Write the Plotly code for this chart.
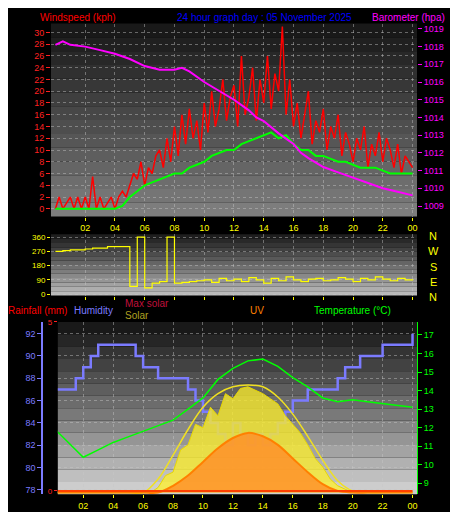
import plotly.graph_objects as go

# time grids (hours)
hours = list(range(25))
half_hours = [i * 0.5 for i in range(49)]
quarter_hours = [i * 0.25 for i in range(97)]

gust = [0, 2, 0, 1, 2, 0, 2, 0, 2, 0, 5.5, 0, 2, 0, 1, 2, 0, 2,
        3, 2, 4, 6, 5, 8, 4, 7, 6, 9, 10, 7, 12, 8,
        14, 9, 16, 11, 17, 12, 15, 10, 18, 13, 20, 14, 17, 22, 15, 19,
        21, 14, 26, 16, 19, 24, 15, 22, 18, 26, 17, 23, 20, 31, 16, 22,
        14, 18, 12, 16, 20, 11, 15, 13, 17, 10, 14, 12, 16, 9, 13, 11,
        8, 12, 10, 14, 7, 11, 9, 13, 8, 12, 10, 7, 11, 6, 9, 8, 7]
avg_wind = [0, 0, 0, 0, 0, 0, 0, 0, 0, 0.5,
            2, 3, 4, 4.5, 5, 5.5, 6, 6, 7, 7.5,
            8, 9, 9.5, 10, 10, 11, 11.5, 12, 12.5, 13,
            12, 12.5, 11, 10, 10, 9, 9, 8.5, 8, 8,
            7.5, 7, 7, 7, 6.5, 6, 6, 6, 6]
baro_t = [0, 0.5, 1, 2, 3, 4, 5, 6, 7, 8, 8.5, 9, 10, 11, 12, 13, 13.5, 14, 15, 16, 16.5, 17, 18, 19, 20, 21, 22, 23, 24]
baro = [1018.1, 1018.3, 1018.1, 1018.0, 1017.8, 1017.6, 1017.3, 1016.9, 1016.7, 1016.7, 1016.8, 1016.6,
        1016.0, 1015.5, 1015.0, 1014.4, 1014.0, 1013.8, 1013.1, 1012.5, 1012.0, 1011.7, 1011.2,
        1010.9, 1010.6, 1010.3, 1010.0, 1009.8, 1009.6]
direction = [270, 275, 280, 280, 285, 290, 290, 300, 300, 300,
             50, 360, 40, 70, 80, 360, 70, 75, 80, 85,
             90, 75, 100, 85, 95, 80, 105, 90, 70, 100, 85, 110, 90, 80, 95,
             100, 85, 90, 105, 95, 80, 100, 90, 110, 95, 85, 100, 90, 95]
humidity = [87, 87, 87, 88, 89, 90, 91, 91, 91, 91,
            91, 90, 89, 89, 88, 88, 88, 88, 87, 86,
            85, 84, 83, 82, 84, 83, 82, 83, 82, 83,
            84, 85, 86, 86, 87, 87, 87, 87, 88, 89,
            89, 90, 90, 90, 91, 91, 91, 91, 92]
temperature = [12.0, 11.2, 10.4, 10.8, 11.2, 11.5, 11.8, 12.1, 12.4, 13.0, 13.6, 14.6, 15.2,
               15.6, 15.7, 15.3, 14.7, 14.2, 13.6, 13.4, 13.5, 13.4, 13.3, 13.2, 13.1]
max_solar = [0, 0, 0, 0, 0, 0, 0, 8, 22, 37, 50, 58, 62, 63, 62, 56, 46, 33, 19, 7, 1, 0, 0, 0, 0]
solar = [0] * 14 + [3, 10, 12, 25, 28, 40, 38, 50, 45, 58, 55, 61, 62, 60, 58, 55, 52, 45, 40,
                    35, 28, 20, 15, 8, 4, 2, 0] + [0] * 8
uv = [0, 0, 0, 0, 0, 0, 0, 0, 4, 10, 18, 26, 32, 35, 33, 28, 20, 12, 5, 1, 0, 0, 0, 0, 0]
rainfall = [0] * 25

xticks = list(range(2, 25, 2))
xlabels = ["%02d" % (h % 24) for h in xticks]

FONT = "Liberation Sans"
fig = go.Figure()

# top panel
fig.add_trace(go.Scatter(x=quarter_hours, y=gust, mode="lines", line=dict(color="#ff0000", width=1.5), xaxis="x", yaxis="y"))
fig.add_trace(go.Scatter(x=half_hours, y=avg_wind, mode="lines", line=dict(color="#00ff00", width=2), xaxis="x", yaxis="y"))
fig.add_trace(go.Scatter(x=baro_t, y=baro, mode="lines", line=dict(color="#ff00ff", width=2), xaxis="x", yaxis="y2"))
# middle panel
fig.add_trace(go.Scatter(x=half_hours, y=direction, mode="lines", line=dict(color="#ffff00", width=1.2, shape="hv"), xaxis="x2", yaxis="y3"))
# bottom panel
fig.add_trace(go.Scatter(x=half_hours, y=solar, mode="lines", fill="tozeroy", fillcolor="rgba(255,240,40,0.75)",
                         line=dict(color="#e8d800", width=1), xaxis="x3", yaxis="y6"))
fig.add_trace(go.Scatter(x=hours, y=max_solar, mode="lines", line=dict(color="#f0e020", width=1.5, shape="spline"), xaxis="x3", yaxis="y6"))
fig.add_trace(go.Scatter(x=hours, y=uv, mode="lines", fill="tozeroy", fillcolor="rgba(255,140,40,0.8)",
                         line=dict(color="#ff8000", width=2, shape="spline"), xaxis="x3", yaxis="y6"))
fig.add_trace(go.Scatter(x=half_hours, y=humidity, mode="lines", line=dict(color="#7b7bff", width=2.5, shape="hv"), xaxis="x3", yaxis="y4"))
fig.add_trace(go.Scatter(x=hours, y=temperature, mode="lines", line=dict(color="#00ff00", width=1.5), xaxis="x3", yaxis="y5"))
fig.add_trace(go.Scatter(x=hours, y=rainfall, mode="lines", line=dict(color="#ff4000", width=2), xaxis="x3", yaxis="y7"))

# gradient backgrounds
def gradient(x0, x1, y0, y1, top, bottom, n=14):
    for i in range(n):
        f = i / (n - 1)
        c = int(top + (bottom - top) * f)
        fig.add_shape(type="rect", xref="paper", yref="paper", layer="below", line_width=0,
                      x0=x0, x1=x1, y1=y1 - (y1 - y0) * i / n, y0=y1 - (y1 - y0) * (i + 1) / n,
                      fillcolor="rgb(%d,%d,%d)" % (c, c, c))

gradient(0.094, 0.895, 0.594, 0.977, 25, 125)
gradient(0.094, 0.895, 0.4375, 0.559, 30, 185)
gradient(0.109, 0.895, 0.043, 0.385, 25, 205)

grid = dict(showgrid=True, gridcolor="rgba(200,200,200,0.45)", griddash="dot", gridwidth=1)
xcommon = dict(range=[-0.3, 24.3], tickvals=xticks, ticktext=xlabels, ticks="outside", ticklen=3,
               tickcolor="#ffff00", tickfont=dict(color="#ffff00", size=9), zeroline=False, **grid)
tf = lambda c: dict(color=c, size=9)

fig.update_layout(
    width=458, height=512, paper_bgcolor="black", plot_bgcolor="rgba(0,0,0,0)",
    margin=dict(l=0, r=0, t=0, b=0), showlegend=False, font=dict(family=FONT),
    xaxis=dict(domain=[0.094, 0.895], anchor="y", **xcommon),
    yaxis=dict(domain=[0.594, 0.977], range=[-1.33, 31.5], tickvals=list(range(0, 31, 2)), tickfont=tf("#ff2020"),
               ticks="outside", ticklen=4, tickcolor="#ff2020", zeroline=False, **grid),
    yaxis2=dict(overlaying="y", side="right", range=[1008.4, 1019.3], tickvals=list(range(1009, 1020)),
                tickfont=tf("#ff00ff"), ticks="outside", ticklen=4, tickcolor="#ff00ff", showgrid=False, zeroline=False),
    xaxis2=dict(domain=[0.094, 0.895], anchor="y3", showticklabels=False, **{k: v for k, v in xcommon.items() if k != "tickfont"}),
    yaxis3=dict(domain=[0.4375, 0.559], range=[-8, 378], tickvals=[0, 90, 180, 270, 360], tickfont=dict(color="#ffff00", size=8),
                ticks="outside", ticklen=3, tickcolor="#ffff00", zeroline=False, **grid),
    xaxis3=dict(domain=[0.109, 0.895], anchor="y4", **dict(xcommon, range=[0.3, 24.3])),
    yaxis4=dict(domain=[0.043, 0.385], range=[77.6, 93.05], tickvals=list(range(78, 93, 2)), tickfont=tf("#7b7bff"),
                anchor="free", position=0.075, ticks="outside", ticklen=4, tickcolor="#7b7bff",
                showline=True, linecolor="#7b7bff", linewidth=2, zeroline=False, **grid),
    yaxis5=dict(overlaying="y4", side="right", range=[8.4, 17.7], tickvals=list(range(9, 18)), tickfont=tf("#00ff00"),
                ticks="outside", ticklen=4, tickcolor="#00ff00", showline=True, linecolor="#00ff00", showgrid=False, zeroline=False),
    yaxis6=dict(overlaying="y4", range=[-1, 100], visible=False),
    yaxis7=dict(overlaying="y4", anchor="x3", side="left", range=[-0.1, 5.0], tickvals=[0, 5], tickfont=dict(color="#ff2020", size=8),
                ticks="outside", ticklen=3, tickcolor="#ff2020", showgrid=False, zeroline=False),
)

def label(x, y, text, color, size=10, anchor="left"):
    fig.add_annotation(x=x, y=y, xref="paper", yref="paper", text=text, showarrow=False, xanchor=anchor,
                       yanchor="middle", font=dict(color=color, size=size, family=FONT), xshift=-2)

label(0.07, 0.99, "Windspeed (kph)", "#ff0000")
label(0.37, 0.99, "24 hour graph day : 05 November 2025", "#0000ff")
label(0.965, 0.99, "Barometer (hpa)", "#ff00ff", anchor="right")
for text, y in zip(["N", "W", "S", "E", "N"], [0.555, 0.525, 0.495, 0.465, 0.435]):
    label(0.935, y, text, "#ffff00", size=11, anchor="center")
label(0.0, 0.407, "Rainfall (mm)", "#ff0000")
label(0.145, 0.407, "Humidity", "#7b7bff")
label(0.255, 0.422, "Max solar", "#c0103c")
label(0.255, 0.398, "Solar", "#b0a020")
label(0.53, 0.407, "UV", "#ff8000")
label(0.67, 0.407, "Temperature (°C)", "#00ff00")

fig.write_html("out.html")
